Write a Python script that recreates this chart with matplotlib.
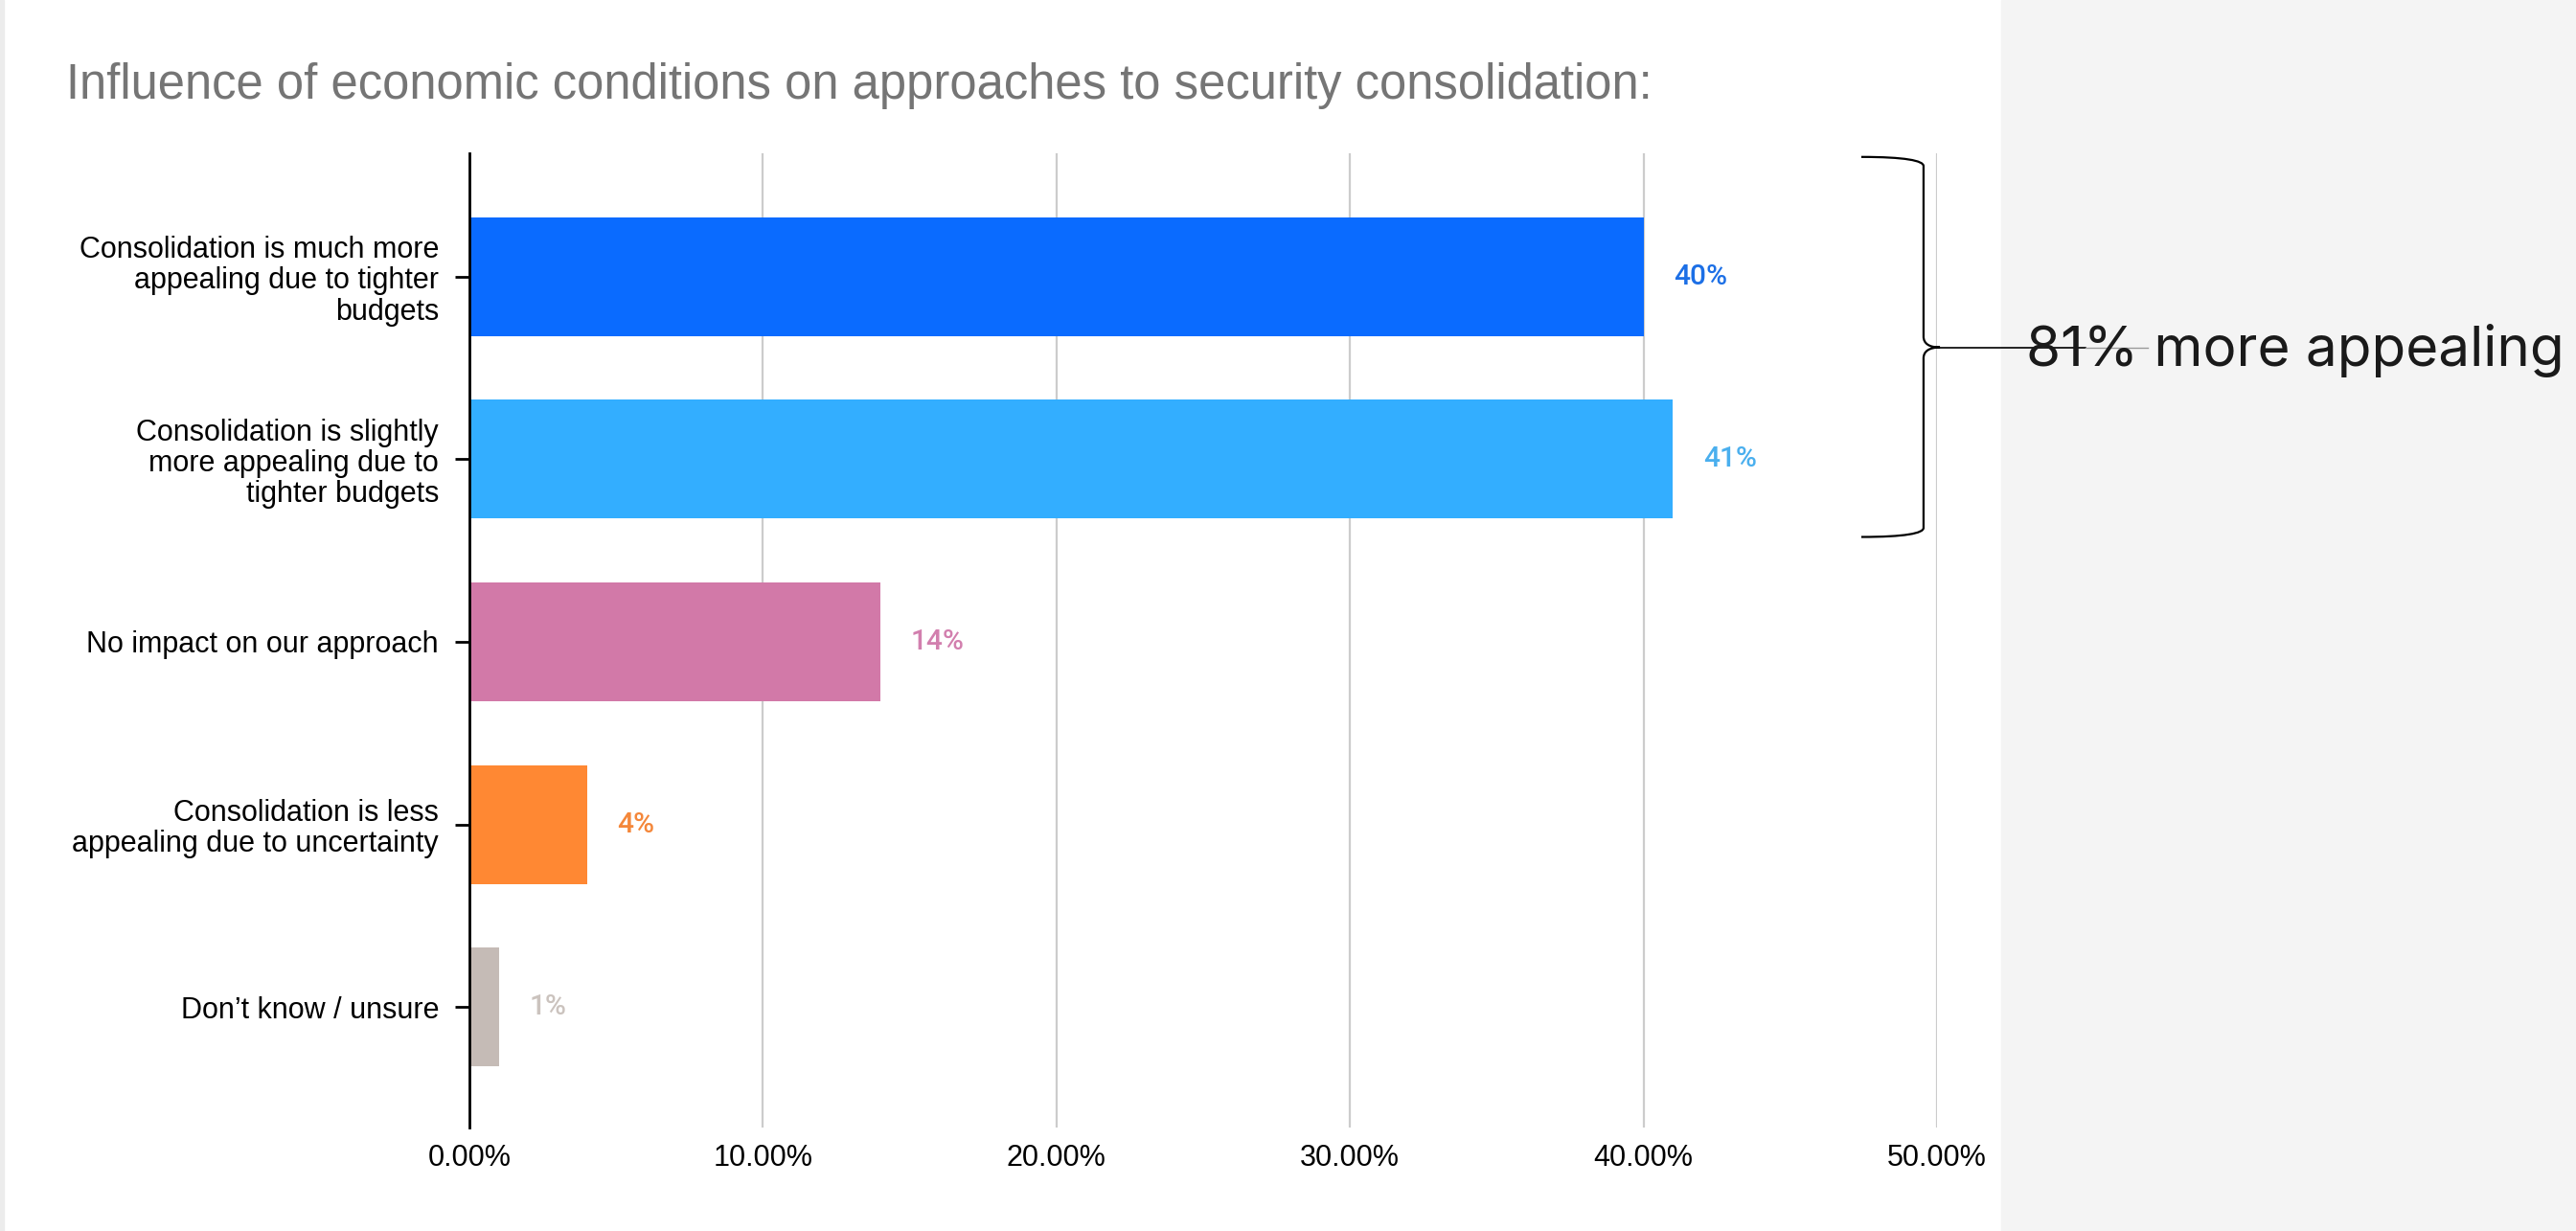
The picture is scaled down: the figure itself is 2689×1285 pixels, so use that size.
import numpy as np
import matplotlib.pyplot as plt
from matplotlib.path import Path
from matplotlib.patches import PathPatch, Rectangle

plt.rcParams['font.family'] = ['Liberation Sans', 'DejaVu Sans']

# data
categories = [
    "Consolidation is much more\nappealing due to tighter\nbudgets",
    "Consolidation is slightly\nmore appealing due to\ntighter budgets",
    "No impact on our approach",
    "Consolidation is less\nappealing due to uncertainty",
    "Don\u2019t know / unsure",
]
shares = [40, 41, 14, 4, 1]
bar_colors = ["#0A6BFF", "#33AEFF", "#D279A8", "#FF8833", "#C5BBB6"]
label_colors = ["#1C6FE6", "#4AAFEE", "#D27FAE", "#F4873A", "#CBC3BE"]
x_ticks = [0, 10, 20, 30, 40, 50]
title = "Influence of economic conditions on approaches to security consolidation:"
callout = "81% more appealing"

W, H = 2689, 1285
fig = plt.figure(figsize=(W / 100, H / 100), dpi=100)

# grey side panel and thin left border
fig.patches.append(Rectangle((2089 / W, 0), 1, 1, transform=fig.transFigure,
                             color="#f4f4f4", zorder=-1))
fig.patches.append(Rectangle((0, 0), 4 / W, 1, transform=fig.transFigure,
                             color="#ececec", zorder=-1))

ax = fig.add_axes([490 / W, 1 - 1177 / H, (2022 - 490) / W, (1177 - 160) / H])
ax.set_facecolor('none')

y = np.arange(len(shares))
ax.barh(y, shares, height=0.65, color=bar_colors, zorder=2)
ax.set_xlim(0, 50)
ax.set_ylim(len(shares) - 1 + 0.66, -0.675)

ax.set_xticks(x_ticks)
ax.set_xticklabels([f"{t:.2f}%" for t in x_ticks])
ax.set_yticks(y)
ax.set_yticklabels(categories, linespacing=1.1)
ax.tick_params(axis='x', length=0, pad=12, labelsize=22, colors='black')
ax.tick_params(axis='y', direction='inout', length=21, width=2, pad=12.5,
               labelsize=22, colors='black')

for s in ['top', 'right', 'bottom']:
    ax.spines[s].set_visible(False)
ax.spines['left'].set_linewidth(2)
ax.spines['left'].set_zorder(3)
ax.grid(axis='x', color='#cccccc', linewidth=1.6, zorder=0)
ax.set_axisbelow(True)

# value labels
for i, v in enumerate(shares):
    ax.annotate(f"{v}%", (v, i), xytext=(23, 0), textcoords='offset points',
                va='center', ha='left', fontsize=21.5, color=label_colors[i],
                family=['Roboto', 'DejaVu Sans'], fontweight='medium')

# brace around the first two bars
top, bot, mid = -0.655, 1.426, 0.388
x0, xv, xt = 47.42, 49.54, 50.1
verts = [
    (x0, top), (48.9, top), (xv, top + 0.02), (xv, top + 0.05),
    (xv, mid - 0.06),
    (xv, mid - 0.02), (xv + 0.2, mid), (xt, mid),
    (xv + 0.2, mid), (xv, mid + 0.02), (xv, mid + 0.06),
    (xv, bot - 0.05),
    (xv, bot - 0.02), (48.9, bot), (x0, bot),
]
codes = [Path.MOVETO, Path.CURVE4, Path.CURVE4, Path.CURVE4,
         Path.LINETO,
         Path.CURVE4, Path.CURVE4, Path.CURVE4,
         Path.CURVE4, Path.CURVE4, Path.CURVE4,
         Path.LINETO,
         Path.CURVE4, Path.CURVE4, Path.CURVE4]
ax.add_patch(PathPatch(Path(verts, codes), fill=False, edgecolor='black',
                       linewidth=1.6, clip_on=False, zorder=4))
ax.plot([xt, 55.06], [mid, mid], color='black', linewidth=1.2, clip_on=False, zorder=4)
ax.plot([55.06, 57.18], [mid, mid], color='#9a9a9a', linewidth=1.0, clip_on=False, zorder=4)

fig.text(2115 / W, 1 - 382 / H, callout, ha='left', va='baseline',
         fontsize=42, color='#1a1a1a', family=['Inter', 'DejaVu Sans'])

fig.text(69 / W, 1 - 89 / H, title, ha='left', va='center', fontsize=36.5,
         color='#757575')

fig.savefig('out.png', dpi=100)
